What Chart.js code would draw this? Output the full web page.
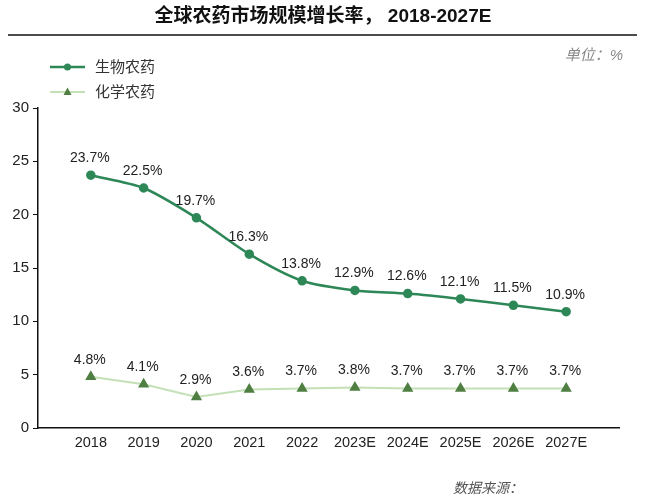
<!DOCTYPE html>
<html>
<head>
<meta charset="utf-8">
<script src="https://cdn.jsdelivr.net/npm/chart.js@4/dist/chart.umd.min.js"></script>
<style>
  html, body { margin: 0; padding: 0; background: #fff; }
  #wrap { width: 646px; height: 500px; }
</style>
</head>
<body>
<div id="wrap"><canvas id="c" width="646" height="500"></canvas></div>
<script>
const years = ['2018', '2019', '2020', '2021', '2022', '2023E', '2024E', '2025E', '2026E', '2027E']
const bioValues = [23.7, 22.5, 19.7, 16.3, 13.8, 12.9, 12.6, 12.1, 11.5, 10.9]
const chemValues = [4.8, 4.1, 2.9, 3.6, 3.7, 3.8, 3.7, 3.7, 3.7, 3.7]
const seriesNames = ['生物农药', '化学农药']
const yTicks = [0, 5, 10, 15, 20, 25, 30]

const FONT = '"Liberation Sans", "Noto Sans CJK SC", sans-serif'
const BIO = '#2d8756'
const CHEM_LINE = '#c3e0b6'
const CHEM_PT = '#4f7f42'

const toPoints = arr => arr.map((v, i) => ({ x: i + 1, y: v }))

// title, rule, unit, legend, point labels
const decor = {
  id: 'decor',
  afterDraw(chart) {
    const ctx = chart.ctx
    ctx.save()
    ctx.fillStyle = '#111'
    ctx.font = 'bold 19px ' + FONT
    ctx.textAlign = 'center'
    ctx.textBaseline = 'middle'
    ctx.fillText('全球农药市场规模增长率， 2018-2027E', 323, 17)
    ctx.strokeStyle = '#111'
    ctx.lineWidth = 1.5
    ctx.beginPath()
    ctx.moveTo(8, 35)
    ctx.lineTo(637, 35)
    ctx.stroke()

    ctx.fillStyle = '#888'
    ctx.font = 'italic 15px ' + FONT
    ctx.textAlign = 'right'
    ctx.fillText('单位：%', 623, 56)

    // legend
    ctx.textAlign = 'left'
    ctx.font = '15px ' + FONT
    ctx.lineWidth = 2.5
    ctx.strokeStyle = BIO
    ctx.beginPath(); ctx.moveTo(50, 67); ctx.lineTo(85, 67); ctx.stroke()
    ctx.fillStyle = BIO
    ctx.beginPath(); ctx.arc(67.5, 67, 3.5, 0, Math.PI * 2); ctx.fill()
    ctx.fillStyle = '#333'
    ctx.fillText(seriesNames[0], 95, 68)
    ctx.strokeStyle = CHEM_LINE
    ctx.lineWidth = 2
    ctx.beginPath(); ctx.moveTo(50, 92); ctx.lineTo(85, 92); ctx.stroke()
    ctx.fillStyle = CHEM_PT
    ctx.beginPath(); ctx.moveTo(67.5, 87.5); ctx.lineTo(71.5, 95); ctx.lineTo(63.5, 95); ctx.closePath(); ctx.fill()
    ctx.fillStyle = '#333'
    ctx.fillText(seriesNames[1], 95, 93)

    // value labels
    ctx.font = '14px ' + FONT
    ctx.textAlign = 'center'
    ctx.fillStyle = '#222'
    chart.data.datasets.forEach((ds, di) => {
      chart.getDatasetMeta(di).data.forEach((pt, i) => {
        ctx.fillText(ds.data[i].y.toFixed(1) + '%', pt.x - 1, pt.y - 17)
      })
    })

    ctx.fillStyle = '#555'
    ctx.font = 'italic 14px ' + FONT
    ctx.textAlign = 'left'
    ctx.fillText('数据来源：', 453, 489)
    ctx.restore()
  }
}

new Chart(document.getElementById('c'), {
  type: 'line',
  data: {
    datasets: [
      {
        label: seriesNames[0],
        data: toPoints(bioValues),
        borderColor: BIO,
        backgroundColor: BIO,
        borderWidth: 2.5,
        pointRadius: 3.5,
        pointStyle: 'circle',
        tension: 0.25
      },
      {
        label: seriesNames[1],
        data: toPoints(chemValues),
        borderColor: CHEM_LINE,
        backgroundColor: CHEM_PT,
        pointBorderColor: CHEM_PT,
        borderWidth: 2,
        pointRadius: 4.5,
        pointStyle: 'triangle',
        tension: 0
      }
    ]
  },
  options: {
    responsive: false,
    animation: false,
    layout: { padding: { top: 108, right: 27, bottom: 0, left: 0 } },
    plugins: { legend: { display: false }, tooltip: { enabled: false } },
    scales: {
      x: {
        type: 'linear',
        min: 0,
        max: years.length + 1,
        afterFit: s => { s.height = 72 },
        afterBuildTicks: s => { s.ticks = years.map((y, i) => ({ value: i + 1 })) },
        ticks: {
          callback: v => years[v - 1] || '',
          font: { family: FONT, size: 14.5 },
          color: '#222',
          padding: 6,
          maxRotation: 0,
          autoSkip: false
        },
        grid: { display: false, drawTicks: false },
        border: { color: '#111', width: 1.5 }
      },
      y: {
        min: 0,
        max: 30,
        afterFit: s => { s.width = 38 },
        afterBuildTicks: s => { s.ticks = yTicks.map(v => ({ value: v })) },
        ticks: {
          font: { family: FONT, size: 15 },
          color: '#222',
          padding: 4
        },
        grid: { drawOnChartArea: false, tickLength: 5, color: '#111' },
        border: { color: '#111', width: 1.5 }
      }
    }
  },
  plugins: [decor]
})
</script>
</body>
</html>
